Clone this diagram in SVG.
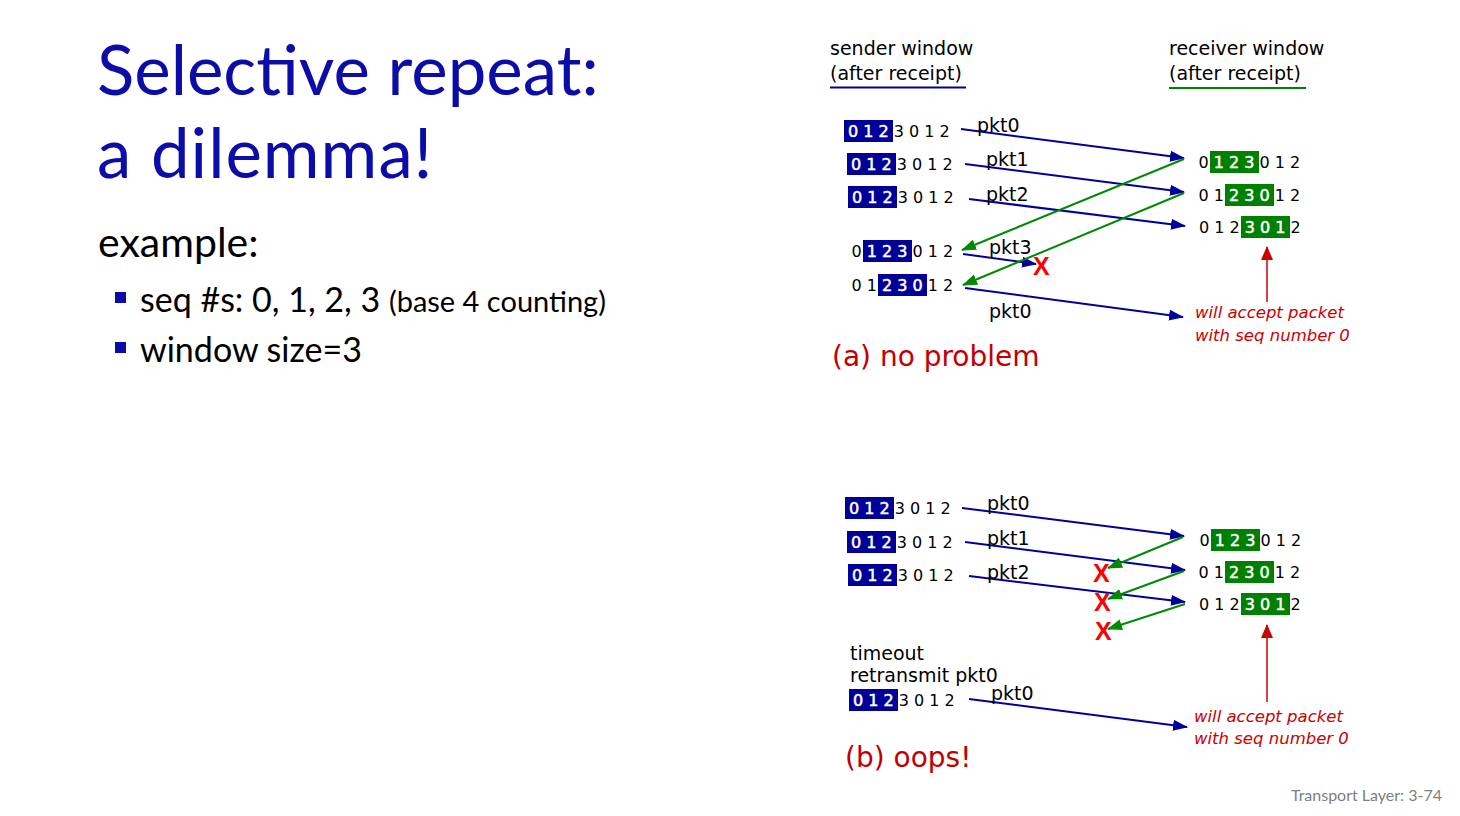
<svg xmlns="http://www.w3.org/2000/svg" width="1460" height="816" viewBox="0 0 1460 816">
<style>
.title{font-family:Lato,"Open Sans",sans-serif;font-size:69px;fill:#0C0CA8}
.body{font-family:Lato,"Open Sans",sans-serif;fill:#000}
.lbl{font-family:"DejaVu Sans",Verdana,sans-serif;font-size:19px;fill:#000}
.seq{font-family:"DejaVu Sans",Verdana,sans-serif;font-size:16px;fill:#000}
.w{fill:#fff;stroke:#fff;stroke-width:0.5}
.bb{fill:#000099}
.gb{fill:#008000}
.note{font-family:"DejaVu Sans",Verdana,sans-serif;font-size:16.5px;font-style:italic;fill:#CC0000}
.cap{font-family:"DejaVu Sans",Verdana,sans-serif;font-size:28px;fill:#C00000}
.x{font-family:"Liberation Sans",Arial,sans-serif;font-weight:bold;font-size:25px;fill:#FF0000}
.blue{stroke:#00009C;stroke-width:2;fill:none;marker-end:url(#ab)}
.green{stroke:#008A00;stroke-width:2;fill:none;marker-end:url(#ag)}
.red{stroke:#CC0000;stroke-width:1.5;fill:none;marker-end:url(#ar)}
</style>
<defs>
<marker id="ab" markerUnits="userSpaceOnUse" markerWidth="15" markerHeight="11" refX="14" refY="5.5" orient="auto"><path d="M0,0 L15,5.5 L0,11 Z" fill="#00009C"/></marker>
<marker id="ag" markerUnits="userSpaceOnUse" markerWidth="15" markerHeight="11" refX="14" refY="5.5" orient="auto"><path d="M0,0 L15,5.5 L0,11 Z" fill="#008A00"/></marker>
<marker id="ar" markerUnits="userSpaceOnUse" markerWidth="14" markerHeight="12" refX="13" refY="6" orient="auto"><path d="M0,0 L14,6 L0,12 Z" fill="#CC0000"/></marker>
</defs>
<rect width="1460" height="816" fill="#fff"/>

<g id="title">
<text class="title" x="97" y="95">Selective repeat:</text>
<text class="title" x="97" y="178" letter-spacing="1">a dilemma!</text>
</g>
<g id="example">
<text class="body" x="98" y="257" font-size="41">example:</text>
<rect x="115" y="292" width="11" height="11" fill="#0C0CA8"/>
<text class="body" x="140" y="312" font-size="34">seq #s: 0, 1, 2, 3 <tspan font-size="29">(base 4 counting)</tspan></text>
<rect x="115" y="342" width="11" height="11" fill="#0C0CA8"/>
<text class="body" x="140" y="362" font-size="34">window size=3</text>
</g>

<g id="headers">
<text class="lbl" x="830" y="55">sender window</text>
<text class="lbl" x="830" y="80">(after receipt)</text>
<line x1="830" y1="87.5" x2="966" y2="87.5" stroke="#00009C" stroke-width="2"/>
<text class="lbl" x="1169" y="55">receiver window</text>
<text class="lbl" x="1169" y="80">(after receipt)</text>
<line x1="1169" y1="88" x2="1306" y2="88" stroke="#008000" stroke-width="2"/>
</g>

<g id="sender-a">
<rect class="bb" x="844" y="120" width="49" height="22"/>
<text class="seq" x="848" y="137"><tspan class="w">0 1 2</tspan> 3 0 1 2</text>
<rect class="bb" x="847" y="153" width="49" height="22"/>
<text class="seq" x="851" y="170"><tspan class="w">0 1 2</tspan> 3 0 1 2</text>
<rect class="bb" x="848" y="186" width="49" height="22"/>
<text class="seq" x="852" y="203"><tspan class="w">0 1 2</tspan> 3 0 1 2</text>
<rect class="bb" x="863" y="240" width="49" height="22"/>
<text class="seq" x="851.5" y="257">0 <tspan class="w">1 2 3</tspan> 0 1 2</text>
<rect class="bb" x="878" y="274" width="49" height="22"/>
<text class="seq" x="851.5" y="291">0 1 <tspan class="w">2 3 0</tspan> 1 2</text>
</g>

<g id="receiver-a">
<rect class="gb" x="1210" y="151" width="49" height="22"/>
<text class="seq" x="1198.5" y="168">0 <tspan class="w">1 2 3</tspan> 0 1 2</text>
<rect class="gb" x="1225" y="184" width="49" height="22"/>
<text class="seq" x="1198.5" y="201">0 1 <tspan class="w">2 3 0</tspan> 1 2</text>
<rect class="gb" x="1241" y="216" width="49" height="22"/>
<text class="seq" x="1199" y="233">0 1 2 <tspan class="w">3 0 1</tspan> 2</text>
</g>

<g id="connectors-a">
<line class="blue" x1="961" y1="129" x2="1184" y2="158"/>
<line class="blue" x1="965" y1="164" x2="1184" y2="192"/>
<line class="blue" x1="969" y1="199" x2="1185" y2="226"/>
<line class="blue" x1="963" y1="254" x2="1036" y2="264"/>
<line class="blue" x1="965" y1="288" x2="1183" y2="317"/>
<line class="green" x1="1184" y1="159" x2="962" y2="250"/>
<line class="green" x1="1184" y1="193" x2="963" y2="285"/>
<line class="red" x1="1267" y1="302" x2="1267" y2="247"/>
</g>

<g id="labels-a">
<text class="lbl" x="977" y="132">pkt0</text>
<text class="lbl" x="986" y="166">pkt1</text>
<text class="lbl" x="986" y="201">pkt2</text>
<text class="lbl" x="989" y="254">pkt3</text>
<text class="x" x="1033" y="275">X</text>
<text class="lbl" x="989" y="318">pkt0</text>
<text class="note" x="1195" y="318">will accept packet</text>
<text class="note" x="1195" y="341">with seq number 0</text>
<text class="cap" x="832" y="366">(a) no problem</text>
</g>

<g id="sender-b">
<rect class="bb" x="845" y="497" width="49" height="22"/>
<text class="seq" x="849" y="514"><tspan class="w">0 1 2</tspan> 3 0 1 2</text>
<rect class="bb" x="847" y="531" width="49" height="22"/>
<text class="seq" x="851" y="548"><tspan class="w">0 1 2</tspan> 3 0 1 2</text>
<rect class="bb" x="848" y="564" width="49" height="22"/>
<text class="seq" x="852" y="581"><tspan class="w">0 1 2</tspan> 3 0 1 2</text>
<text class="lbl" x="850" y="660">timeout</text>
<text class="lbl" x="850" y="682">retransmit pkt0</text>
<rect class="bb" x="849" y="689" width="49" height="22"/>
<text class="seq" x="853" y="706"><tspan class="w">0 1 2</tspan> 3 0 1 2</text>
</g>

<g id="receiver-b">
<rect class="gb" x="1211" y="529" width="49" height="22"/>
<text class="seq" x="1199.5" y="546">0 <tspan class="w">1 2 3</tspan> 0 1 2</text>
<rect class="gb" x="1225" y="561" width="49" height="22"/>
<text class="seq" x="1198.5" y="578">0 1 <tspan class="w">2 3 0</tspan> 1 2</text>
<rect class="gb" x="1241" y="593" width="49" height="22"/>
<text class="seq" x="1199" y="610">0 1 2 <tspan class="w">3 0 1</tspan> 2</text>
</g>

<g id="connectors-b">
<line class="blue" x1="962" y1="508" x2="1184" y2="536"/>
<line class="blue" x1="965" y1="542" x2="1185" y2="570"/>
<line class="blue" x1="969" y1="576" x2="1185" y2="602"/>
<line class="blue" x1="969" y1="699" x2="1187" y2="727"/>
<line class="green" x1="1183" y1="537" x2="1108" y2="568"/>
<line class="green" x1="1184" y1="571" x2="1108" y2="599"/>
<line class="green" x1="1185" y1="604" x2="1108" y2="629"/>
<line class="red" x1="1267" y1="702" x2="1267" y2="625"/>
</g>

<g id="labels-b">
<text class="lbl" x="987" y="510">pkt0</text>
<text class="lbl" x="987" y="545">pkt1</text>
<text class="lbl" x="987" y="579">pkt2</text>
<text class="lbl" x="991" y="700">pkt0</text>
<text class="x" x="1093" y="582">X</text>
<text class="x" x="1094" y="611">X</text>
<text class="x" x="1095" y="640">X</text>
<text class="note" x="1194" y="722">will accept packet</text>
<text class="note" x="1194" y="744">with seq number 0</text>
<text class="cap" x="845" y="767">(b) oops!</text>
</g>

<text id="footer" x="1442" y="801" text-anchor="end" font-family="Lato,'Open Sans',sans-serif" font-size="16" fill="#7F7F7F">Transport Layer: 3-74</text>
</svg>
